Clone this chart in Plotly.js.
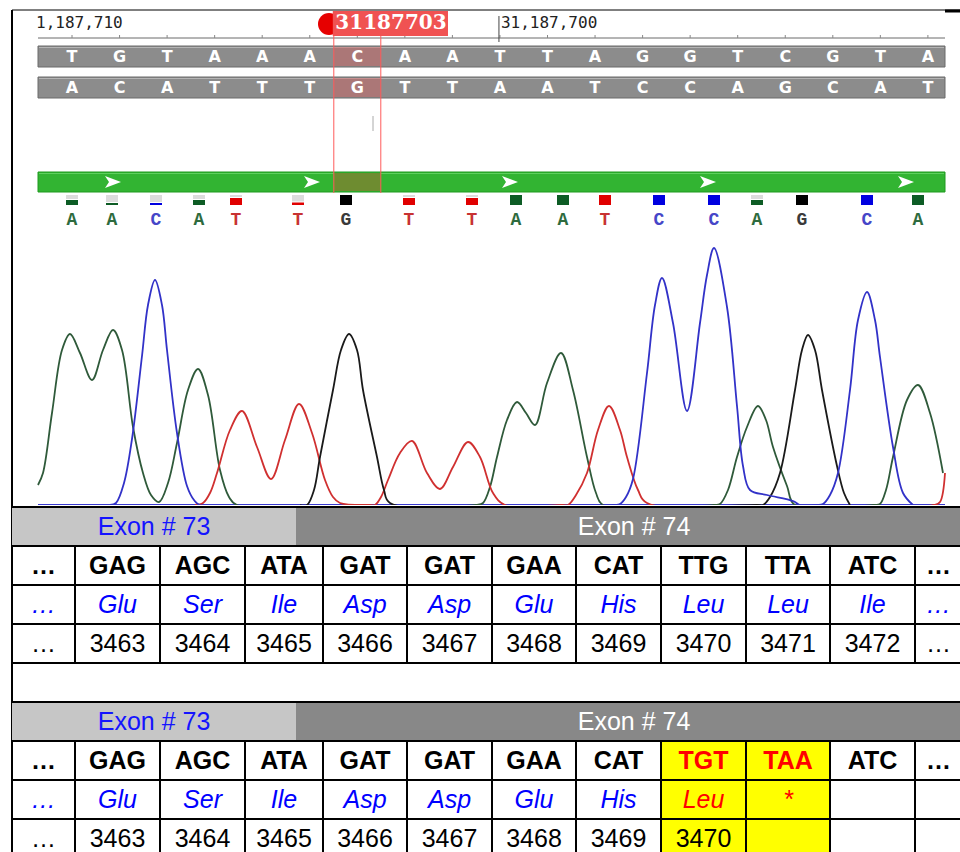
<!DOCTYPE html>
<html><head><meta charset="utf-8">
<script src="https://cdn.plot.ly/plotly-3.0.1.min.js"></script>
<style>html,body{margin:0;padding:0;background:#fff}#chart{width:960px;height:852px}</style>
</head><body><div id="chart"></div>
<script>
// ================= DATA =================
const rulerLeftLabel = '1,187,710';
const rulerMidLabel = '31,187,700';
const cursorLabel = '31187703';
const topStrand    = ['T','G','T','A','A','A','C','A','A','T','T','A','G','G','T','C','G','T','A'];
const bottomStrand = ['A','C','A','T','T','T','G','T','T','A','A','T','C','C','A','G','C','A','T'];
const cursorIndex = 6;      // highlighted base (31187703)
const rulerMidIndex = 9;    // 31,187,700

// base calls under the read
const callBases   = ['A','A','C','A','T','T','G','T','T','A','A','T','C','C','A','G','C','A'];
const callX       = [72,112,156,199,236,298,346,409,472,516,563,605,659,714,757,802,867,918];
const callQuality = [0.5,0.2,0.2,0.5,0.7,0.25,1,0.7,0.7,1,1,1,1,1,0.5,1,1,1];

// chromatogram traces (scan position, signal intensity)
const traceA_x = [38,43,52,62,70,80,92,103,113,122,133,143,151,159,168,177,188,198,208,220,229,237,
                  476,483,490,497,507,517,526,535,547,561,573,587,596,603,
                  714,720,728,737,747,758,766,773,787,795,
                  874,880,886,893,907,918,930,943];
const traceA_y = [20,32,92,155,171,152,125,155,175,155,78,32,10,3,22,62,115,136,110,35,8,0,
                  0,2,18,48,85,103,92,80,122,152,115,48,12,0,
                  0,1,15,48,78,99,85,58,19,0,
                  0,1,15,48,105,120,92,32];
const traceC_x = [110,116,124,132,142,148,155,162,167,177,187,194,200,
                  614,620,626,633,647,655,662,673,687,700,707,714,727,737,743,750,767,793,800,
                  817,823,830,838,850,858,867,875,880,893,903,913];
const traceC_y = [0,2,22,66,149,200,225,200,155,72,19,5,0,
                  0,1,8,26,132,200,227,182,94,182,230,257,198,99,39,15,10,4,0,
                  0,1,10,32,115,185,213,185,148,58,12,0];
const traceG_x = [300,307,314,320,333,341,349,357,363,377,384,390,
                  757,763,770,780,795,802,808,815,822,837,844,850];
const traceG_y = [0,0,15,48,115,155,171,155,115,48,15,2,
                  0,0,8,32,115,155,170,155,115,39,12,0];
const traceT_x = [195,203,210,217,230,242,257,271,285,299,312,325,333,340,
                  369,375,381,388,400,412,427,440,453,468,480,493,505,
                  562,568,576,587,598,609,620,627,638,647,
                  934,940,945];
const traceT_y = [0,2,12,32,75,94,58,26,65,101,72,25,8,2,
                  0,0,8,25,52,64,32,16,38,63,48,12,0,
                  0,0,10,32,75,99,75,48,15,2,
                  0,3,32];

// tables
const exonLeft = 'Exon # 73';
const exonRight = 'Exon # 74';
const codonsRef = ['…','GAG','AGC','ATA','GAT','GAT','GAA','CAT','TTG','TTA','ATC','…'];
const aminoRef  = ['…','Glu','Ser','Ile','Asp','Asp','Glu','His','Leu','Leu','Ile','…'];
const posRef    = ['…','3463','3464','3465','3466','3467','3468','3469','3470','3471','3472','…'];
const codonsMut = ['…','GAG','AGC','ATA','GAT','GAT','GAA','CAT','TGT','TAA','ATC','…'];
const aminoMut  = ['…','Glu','Ser','Ile','Asp','Asp','Glu','His','Leu','*','',''];
const posMut    = ['…','3463','3464','3465','3466','3467','3468','3469','3470','','',''];
const mutatedCols = [8,9];

// ================= LAYOUT CONSTANTS =================
const W = 960, H = 852;
const strandStartX = 72, strandPitch = 47.55;
const bx = i => strandStartX + i*strandPitch;
const trackL = 38, trackR = 945;
const baseY = 505, chromTop = 245;
const colEdges = [12,75,160,245,323,407,492,576,661,746,830,915,962];
const colC = i => (colEdges[i]+colEdges[i+1])/2;
const exonSplit = 296;
const rowH = 39;
const t1Top = 507, t2Top = 702;
const textDY = 2.5;

const shapes = [];
const rect = (x0,y0,x1,y1,fill,line,lw) => shapes.push({type:'rect',xref:'x',yref:'y',x0,y0,x1,y1,fillcolor:fill,line:{color:line||'rgba(0,0,0,0)',width:lw||0},layer:'below'});
const seg = (x0,y0,x1,y1,color,w) => shapes.push({type:'line',xref:'x',yref:'y',x0,y0,x1,y1,line:{color,width:w},layer:'below'});

// frame
seg(12,10,960,10,'#000',1);
seg(945,11,960,11,'#000',3);
seg(12,10,12,H,'#000',2);

// ruler
seg(trackL,38,trackR,38,'#6a6a6a',1);
topStrand.forEach((_,i)=>seg(bx(i),35,bx(i),38,'#888',1));
seg(bx(rulerMidIndex)-1,16,bx(rulerMidIndex)-1,42,'#444',1);

// strands
rect(trackL,46,trackR,67,'#8c8c8c','#6a6a6a',1);
seg(trackL+1,47.5,trackR-1,47.5,'#b4b4b4',1);
rect(trackL,77,trackR,98,'#8c8c8c','#6a6a6a',1);
seg(trackL+1,78.5,trackR-1,78.5,'#b4b4b4',1);

// cursor
const cx0 = bx(cursorIndex)-23.5, cx1 = bx(cursorIndex)+23.5;
rect(cx0,47,cx1,66,'rgba(230,80,80,0.35)');
rect(cx0,78,cx1,97,'rgba(230,80,80,0.35)');
shapes.push({type:'circle',xref:'x',yref:'y',x0:318,y0:13,x1:340,y1:35,fillcolor:'#e60000',line:{width:0},layer:'below'});
rect(cx0-1,11,448,36,'#f05252');

// feature bar
rect(trackL,172,trackR,192,'#32b432','#1f9a1f',1);
seg(trackL+1,173.5,trackR-1,173.5,'#5fd05f',1);
rect(cx0,173,cx1,191,'#6e8c30');
[113,312,510,708,906].forEach(ax=>{
  shapes.push({type:'path',xref:'x',yref:'y',path:`M ${ax-8},176 L ${ax+8},182 L ${ax-8},188 L ${ax-4},182 Z`,fillcolor:'#ffffff',line:{width:0},layer:'below'});
});
seg(cx0,36,cx0,193,'#ff5a5a',1);
seg(cx1,36,cx1,193,'#ff5a5a',1);
seg(373,116,373,131,'#aaaaaa',1);

// base-call quality marks
const qualColor = {A:'#0d5c25',C:'#0000e0',G:'#000000',T:'#e00000'};
const letterColor = {A:'#2e6b3e',C:'#4646c8',G:'#3a3a3a',T:'#c83232'};
callBases.forEach((b,i)=>{
  const x = callX[i], q = callQuality[i];
  if (q < 1) rect(x-6,195,x+6,195+10*(1-q)-1,'#dcdcdc');
  rect(x-6,205-10*q,x+6,205,qualColor[b]);
});

// tables
function tableShapes(top, mutCols){
  rect(12,top,exonSplit,top+rowH,'#c6c6c6');
  rect(exonSplit,top,962,top+rowH,'#888888');
  if (mutCols) mutCols.forEach(c=>rect(colEdges[c],top+rowH,colEdges[c+1],top+4*rowH+2,'#ffff00'));
  for (let r=0;r<=4;r++) seg(12,top+r*rowH,962,top+r*rowH,'#000',2);
  colEdges.slice(1,-1).forEach(x=>seg(x,top+rowH,x,top+4*rowH,'#000',2));
}
tableShapes(t1Top,null);
tableShapes(t2Top,mutatedCols);

// ================= TRACES =================
const traces = [];
function txt(xs, ys, texts, family, size, colors, pos){
  traces.push({type:'scatter',mode:'text',x:xs,y:ys,text:texts,textposition:pos||'middle center',
    textfont:{family,size,color:colors},hoverinfo:'skip',showlegend:false,cliponaxis:false,xaxis:'x',yaxis:'y'});
}
// ruler labels
txt([trackL-2],[24],[rulerLeftLabel],'DejaVu Sans Mono',16,'#222','middle right');
txt([bx(rulerMidIndex)+1],[24],[rulerMidLabel],'DejaVu Sans Mono',16,'#222','middle right');
txt([391],[24],['<b>'+cursorLabel+'</b>'],'DejaVu Serif',20,'#ffffff');
// strands
const sx = topStrand.map((_,i)=>bx(i));
txt(sx, topStrand.map(()=>57.5), topStrand.map(b=>'<b>'+b+'</b>'),'DejaVu Sans',16,'#ffffff');
txt(sx, bottomStrand.map(()=>88.5), bottomStrand.map(b=>'<b>'+b+'</b>'),'DejaVu Sans',16,'#ffffff');
// base calls
txt(callX, callX.map(()=>220), callBases.map(b=>'<b>'+b+'</b>'),'Liberation Mono',18,callBases.map(b=>letterColor[b]));

// tables text
const tf = 'Liberation Sans, Arial, sans-serif';
function tableText(top, codons, amino, pos, mutCols){
  const xs = codons.map((_,i)=>colC(i));
  const isMut = i => mutCols && mutCols.includes(i);
  txt([154],[top+rowH/2+textDY],[exonLeft],tf,25,'#1414ff');
  txt([634],[top+rowH/2+textDY],[exonRight],tf,25,'#ffffff');
  txt(xs, xs.map(()=>top+1.5*rowH+textDY), codons.map(c=>'<b>'+c+'</b>'), tf, 25, codons.map((_,i)=>isMut(i)?'#ff0000':'#000000'));
  txt(xs, xs.map(()=>top+2.5*rowH+textDY), amino.map(a=>a?'<i>'+a+'</i>':''), tf, 25, amino.map((_,i)=>isMut(i)?'#ff0000':'#0000ff'));
  txt(xs, xs.map(()=>top+3.5*rowH+textDY), pos, tf, 25, '#000000');
}
tableText(t1Top, codonsRef, aminoRef, posRef, null);
tableText(t2Top, codonsMut, aminoMut, posMut, mutatedCols);

// chromatogram
const chrom = (x,y,color)=>traces.push({type:'scatter',mode:'lines',x,y,xaxis:'x',yaxis:'y2',
  line:{color,width:1.8,shape:'spline',smoothing:1},hoverinfo:'skip',showlegend:false,cliponaxis:false});
chrom([trackL,trackR],[0,0],'#3a3ad0');
chrom(traceA_x,traceA_y,'#2f5a3a');
chrom(traceT_x,traceT_y,'#d03030');
chrom(traceG_x,traceG_y,'#1a1a1a');
chrom(traceC_x,traceC_y,'#3232c8');

const layout = {
  width:W,height:H,margin:{l:0,r:0,t:0,b:0},paper_bgcolor:'#ffffff',plot_bgcolor:'rgba(0,0,0,0)',
  showlegend:false,hovermode:false,
  xaxis:{range:[0,W],visible:false,fixedrange:true,anchor:'y'},
  yaxis:{range:[H,0],visible:false,fixedrange:true,anchor:'x',domain:[0,1]},
  yaxis2:{range:[0,baseY-chromTop],visible:false,fixedrange:true,anchor:'x',
          domain:[(H-baseY)/H,(H-chromTop)/H]},
  shapes
};
Plotly.newPlot('chart',traces,layout,{staticPlot:true,displayModeBar:false});
</script></body></html>
